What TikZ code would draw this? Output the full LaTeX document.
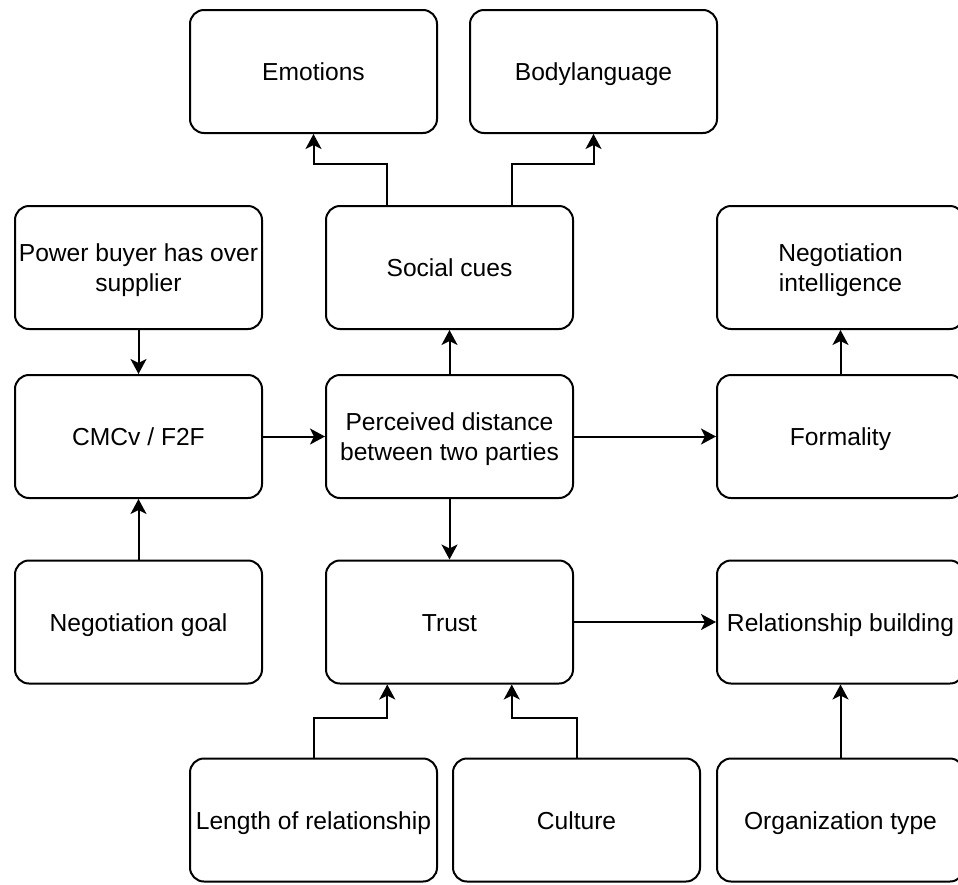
\documentclass[tikz,border=0pt]{standalone}
\usepackage{fontspec}
\setmainfont{Liberation Sans}
\usetikzlibrary{arrows.meta,calc}

% two centred lines, lowered slightly without changing the box size
\newcommand{\twolines}[2]{\raisebox{-3pt}[\height][\depth]{%
  \begin{tabular}{@{}c@{}}#1\\#2\end{tabular}}}

\begin{document}
\begin{tikzpicture}[x=1pt,y=-1pt,
  base/.style={draw=black, line width=2pt, rounded corners=14pt,
    minimum width=247pt, minimum height=123pt, inner sep=0pt,
    font=\fontsize{24.6}{30.2}\selectfont},
  box/.style={base, align=center,
    execute at begin node={\rule{0pt}{27pt}},
    execute at end node={\rule[-9pt]{0pt}{9pt}}},
  twoline/.style={base},
  arr/.style={draw=black, line width=2pt,
    -{Stealth[length=15pt,width=16pt,inset=4pt]}}]
  \useasboundingbox (0,0) rectangle (958,884);
  \clip (0,0) rectangle (958,884);

  % boxes
  \node[box] (emo)    at (313.5,71.5)  {Emotions};
  \node[box] (body)   at (593.5,71.5)  {Bodylanguage};
  \node[twoline] (power)  at (138.5,267.5) {\twolines{Power buyer has over}{supplier}};
  \node[box] (social) at (449.5,267.5) {Social cues};
  \node[twoline] (negint) at (840.5,267.5) {\twolines{Negotiation}{intelligence}};
  \node[box] (cmc)    at (138.5,436.5) {CMCv / F2F};
  \node[twoline] (perc)   at (449.5,436.5) {\twolines{Perceived distance}{between two parties}};
  \node[box] (formal) at (840.5,436.5) {Formality};
  \node[box] (goal)   at (138.5,622)   {Negotiation goal};
  \node[box] (trust)  at (449.5,622)   {Trust};
  \node[box] (relb)   at (840.5,622)   {Relationship building};
  \node[box] (length) at (313.5,820)   {Length of relationship};
  \node[box] (cult)   at (576.5,820)   {Culture};
  \node[box] (org)    at (840.5,820)   {Organization type};

  % attachment points at the quarter positions
  \coordinate (sL) at ($(social.north west)!0.25!(social.north east)$);
  \coordinate (sR) at ($(social.north west)!0.75!(social.north east)$);
  \coordinate (tL) at ($(trust.south west)!0.25!(trust.south east)$);
  \coordinate (tR) at ($(trust.south west)!0.75!(trust.south east)$);

  % straight connectors
  \draw[arr] (power.south) -- (cmc.north);
  \draw[arr] (goal.north) -- (cmc.south);
  \draw[arr] (cmc.east) -- (perc.west);
  \draw[arr] (perc.north) -- (social.south);
  \draw[arr] (perc.south) -- (trust.north);
  \draw[arr] (perc.east) -- (formal.west);
  \draw[arr] (formal.north) -- (negint.south);
  \draw[arr] (trust.east) -- (relb.west);
  \draw[arr] (org.north) -- (relb.south);

  % elbow connectors
  \draw[arr] (sL) -- ++(0,-41) -| (emo.south);
  \draw[arr] (sR) -- ++(0,-41) -| (body.south);
  \draw[arr] (length.north) -- ++(0,-40) -| (tL);
  \draw[arr] (cult.north) -- ++(0,-40) -| (tR);
\end{tikzpicture}
\end{document}
